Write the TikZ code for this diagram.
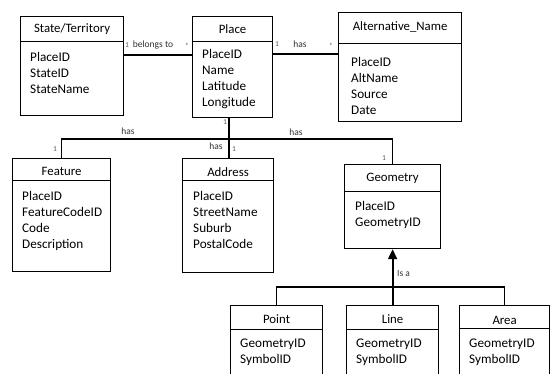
\documentclass[tikz,border=0pt]{standalone}
\usepackage{fontspec}
\setmainfont{Carlito}
\usetikzlibrary{arrows.meta}
\begin{document}
\begin{tikzpicture}[x=1pt,y=-1pt,
  box/.style={draw, line width=1.2pt, inner sep=0pt, anchor=north west, fill=white},
  divline/.style={line width=1pt},
  conn/.style={line width=1.2pt},
  title/.style={font=\fontsize{12.8}{15}\selectfont, inner sep=0pt},
  attr/.style={font=\fontsize{13.2}{16.2}\selectfont, align=left, anchor=north west, inner sep=0pt},
  lbl/.style={font=\fontsize{9.5}{11}\selectfont, inner sep=0pt, text=black!80},
  mult/.style={font=\fontsize{7.5}{9}\selectfont, inner sep=0pt, text=black!65}]
\useasboundingbox (0,0) rectangle (550,374);
\clip (0,0) rectangle (550,374);
\fill[white] (0,0) rectangle (550,374);

% State/Territory
\node[box, minimum width=103pt, minimum height=99pt] (state) at (20,16) {};
\draw[divline] (state.west |- 0,42) -- (state.east |- 0,42);
\node[title] (stateT) at (state.north |- 0,29) {State/Territory};
\node[attr] (stateA) at (30,52) {PlaceID\\StateID\\StateName};

% Place
\node[box, minimum width=80pt, minimum height=101pt] (place) at (192,16) {};
\draw[divline] (place.west |- 0,42) -- (place.east |- 0,42);
\node[title] (placeT) at (place.north |- 0,29) {Place};
\node[attr] (placeA) at (202,49) {PlaceID\\Name\\Latitude\\Longitude};

% Alternative_Name
\node[box, minimum width=123pt, minimum height=109pt] (alt) at (338,12) {};
\draw[divline] (alt.west |- 0,44) -- (alt.east |- 0,44);
\node[title] (altT) at (alt.north |- 0,27) {Alternative\_Name};
\node[attr] (altA) at (351,57) {PlaceID\\AltName\\Source\\Date};

% Feature
\node[box, minimum width=98pt, minimum height=113pt] (feature) at (12,158) {};
\draw[divline] (feature.west |- 0,181) -- (feature.east |- 0,181);
\node[title] (featureT) at (feature.north |- 0,171) {Feature};
\node[attr] (featureA) at (22,191) {PlaceID\\FeatureCodeID\\Code\\Description};

% Address
\node[box, minimum width=91pt, minimum height=114pt] (address) at (182,158) {};
\draw[divline] (address.west |- 0,181) -- (address.east |- 0,181);
\node[title] (addressT) at (address.north |- 0,172) {Address};
\node[attr] (addressA) at (193,191) {PlaceID\\StreetName\\Suburb\\PostalCode};

% Geometry
\node[box, minimum width=96pt, minimum height=84pt] (geometry) at (344,164) {};
\draw[divline] (geometry.west |- 0,192) -- (geometry.east |- 0,192);
\node[title] (geometryT) at (geometry.north |- 0,178) {Geometry};
\node[attr] (geometryA) at (355,201) {PlaceID\\GeometryID};

% Point
\node[box, minimum width=92pt, minimum height=90pt] (point) at (230,305) {};
\draw[divline] (point.west |- 0,330) -- (point.east |- 0,330);
\node[title] (pointT) at (point.north |- 0,319) {Point};
\node[attr] (pointA) at (240,339) {GeometryID\\SymbolID};

% Line
\node[box, minimum width=92pt, minimum height=90pt] (line) at (346,305) {};
\draw[divline] (line.west |- 0,330) -- (line.east |- 0,330);
\node[title] (lineT) at (line.north |- 0,319) {Line};
\node[attr] (lineA) at (356,339) {GeometryID\\SymbolID};

% Area
\node[box, minimum width=90pt, minimum height=90pt] (area) at (459,305) {};
\draw[divline] (area.west |- 0,329) -- (area.east |- 0,329);
\node[title] (areaT) at (area.north |- 0,320) {Area};
\node[attr] (areaA) at (469,339) {GeometryID\\SymbolID};

% Connectors
\draw[conn] (state.east |- 0,55) -- (place.west |- 0,55);
\draw[conn] (place.east |- 0,54) -- (alt.west |- 0,54);
\draw[conn] (229,0 |- place.south) -- (229,0 |- address.north);
\draw[conn] (feature.north) |- (0,139 -| geometry.north) -- (geometry.north);
\draw[conn] (point.north) |- (0,287 -| area.north) -- (area.north);
\draw[line width=2pt, -{Triangle[width=9pt,length=10pt]}] (line.north) -- (geometry.south);

% Labels
\node[mult] (m1) at (127,45) {1};
\node[lbl] (belongs) at (153,45) {belongs to};
\node[mult] (m2) at (187,46) {*};
\node[mult] (m3) at (277,44) {1};
\node[lbl] (has1) at (300,44) {has};
\node[mult] (m4) at (331,46) {*};
\node[mult] (m5) at (225,122) {1};
\node[lbl] (has2) at (128,131) {has};
\node[lbl] (has3) at (216,146) {has};
\node[mult] (m6) at (234,149) {1};
\node[lbl] (has4) at (296,132) {has};
\node[mult] (m7) at (55,149) {1};
\node[mult] (m8) at (384,158) {1};
\node[lbl, anchor=west] (isa) at (397,273) {Is a};
\end{tikzpicture}
\end{document}
